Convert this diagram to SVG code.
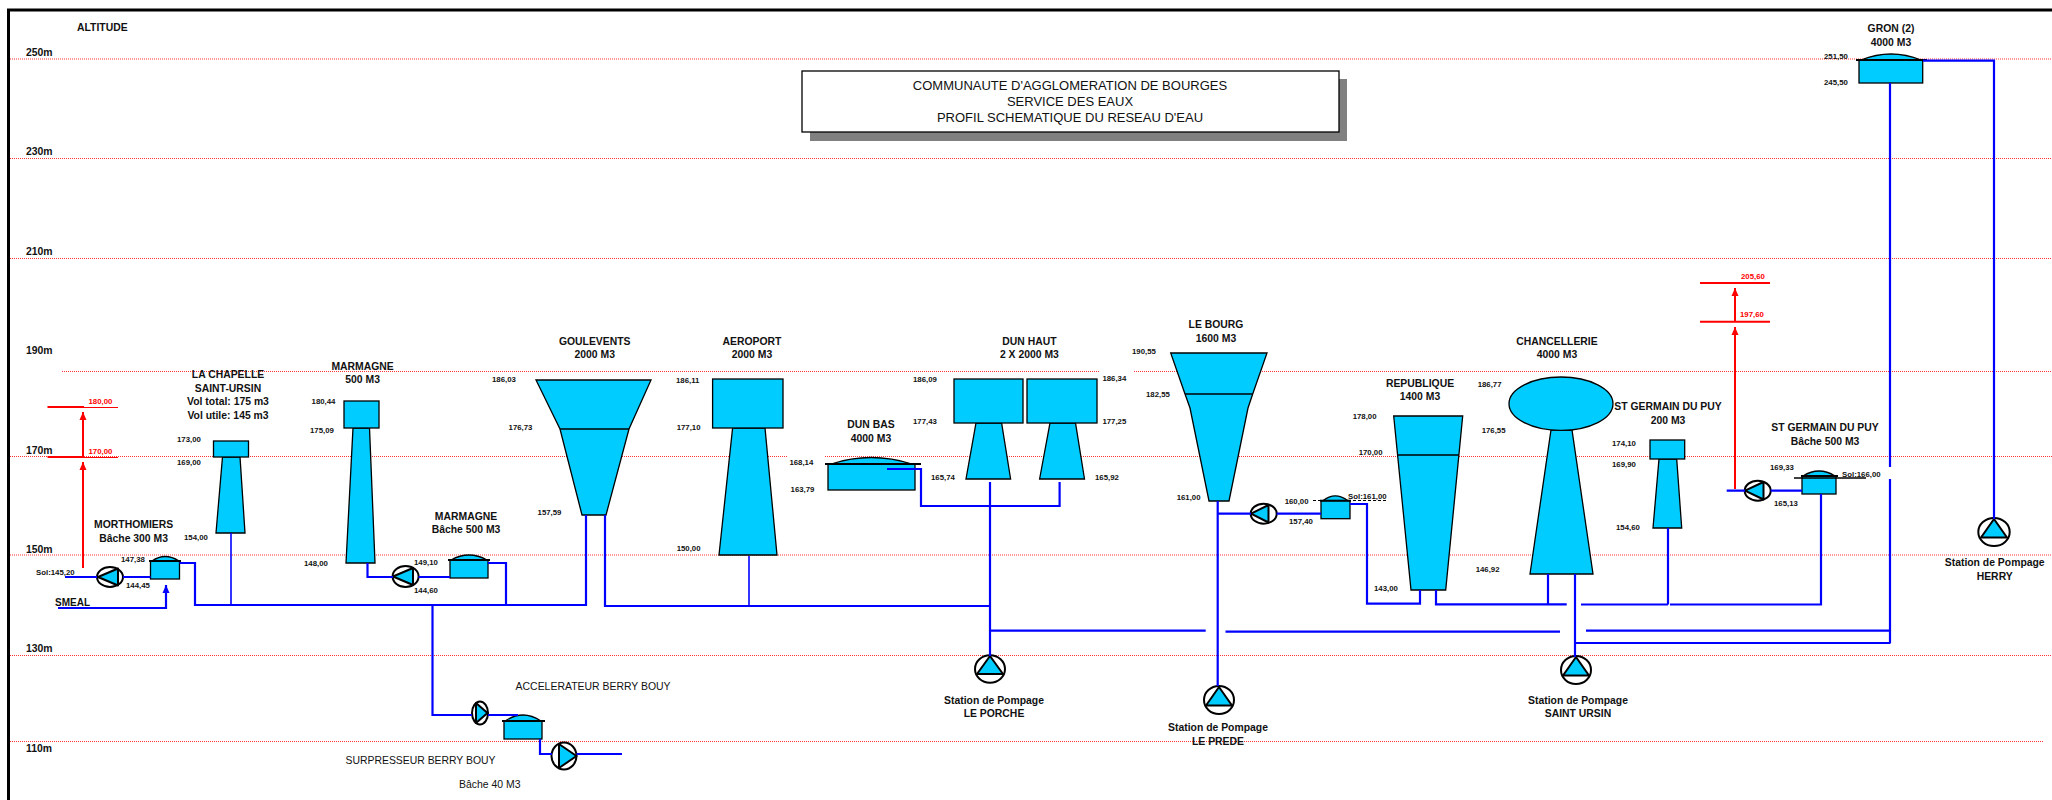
<svg xmlns="http://www.w3.org/2000/svg" width="2052" height="800" viewBox="0 0 2052 800">
<style>
text{font-family:"Liberation Sans",Arial,sans-serif;fill:#111}
.h{font-size:10.4px;font-weight:bold;text-anchor:middle}
.n{font-size:7.8px;font-weight:bold}
.r{font-size:7.8px;font-weight:bold;fill:#f00}
.a{font-size:10.4px;font-weight:bold}
.t{font-size:10.4px}
.tt{font-size:13px;text-anchor:middle}
.g{stroke:#f33;stroke-width:1;stroke-dasharray:1 1;fill:none}
.s{fill:#0cf;stroke:#000;stroke-width:1.3}
.k{stroke:#000;stroke-width:1.3;fill:none}
.lid{stroke:#000;stroke-width:2;fill:none}
.p{fill:#fff;stroke:#000;stroke-width:2}
.pt{fill:#0cf;stroke:#000;stroke-width:2;stroke-linejoin:round}
.b{stroke:#00f;stroke-width:2.2;fill:none}
.bt{stroke:#00f;stroke-width:1.6;fill:none}
.rl{stroke:#f00;stroke-width:2;fill:none}
.rt{stroke:#f00;stroke-width:1;fill:none}
</style>
<defs>
<marker id="ar" markerUnits="userSpaceOnUse" markerWidth="8" markerHeight="8" refX="8" refY="4" orient="auto" viewBox="0 0 8 8"><path d="M8 4L0 .5V7.500Z" fill="#f00"/></marker>
<marker id="ab" markerUnits="userSpaceOnUse" markerWidth="8" markerHeight="8" refX="8" refY="4" orient="auto" viewBox="0 0 8 8"><path d="M8 4L0 .5V7.500Z" fill="#00f"/></marker>
</defs>
<path d="M8.500 800V10H2052" fill="none" stroke="#000" stroke-width="3"/>
<g id="grid">
<path class="g" d="M10 59H2052"/><path class="g" d="M10 158.500H2052"/><path class="g" d="M10 258.500H2052"/>
<path class="g" d="M62 371.500H1099M1134 371.500H2052"/><path class="g" d="M10 456.500H787M825 456.500H2052"/><path class="g" d="M10 555H2052"/><path class="g" d="M10 655.500H2052"/><path class="g" d="M10 741.500H2044"/>
<text class="a" x="26" y="56">250m</text><text class="a" x="26" y="155">230m</text><text class="a" x="26" y="255">210m</text><text class="a" x="26" y="354">190m</text><text class="a" x="26" y="454">170m</text><text class="a" x="26" y="553">150m</text><text class="a" x="26" y="652">130m</text><text class="a" x="26" y="752">110m</text>
<text class="a" x="77" y="31">ALTITUDE</text>
</g>
<g id="title">
<rect x="810" y="79" width="537" height="62" fill="#808080"/>
<rect x="802" y="71" width="537" height="61" fill="#fff" stroke="#000" stroke-width="1.3"/>
<text class="tt" x="1070" y="90">COMMUNAUTE D'AGGLOMERATION DE BOURGES</text>
<text class="tt" x="1070" y="106">SERVICE DES EAUX</text>
<text class="tt" x="1070" y="122">PROFIL SCHEMATIQUE DU RESEAU D'EAU</text>
</g>
<g id="morthomiers">
<ellipse class="p" cx="110" cy="577" rx="13" ry="10"/><path class="pt" d="M98 577L118 568.500V585.500Z"/>
<path class="s" d="M152 561Q165 552 179 561Z"/><rect class="s" x="150.500" y="561" width="29" height="18"/><path class="lid" d="M149 561H181"/>
<text class="h" x="133.600" y="528">MORTHOMIERS</text><text class="h" x="133.600" y="541.700">Bâche 300 M3</text>
<text class="n" x="36" y="575">Sol:145,20</text><text class="n" x="121" y="561.700">147,38</text><text class="n" x="126" y="588">144,45</text>
<text class="a" x="55" y="606" style="font-size:10px">SMEAL</text>
</g>
<g id="la-chapelle">
<path class="s" d="M222.500 457H240L245 533H216Z"/><rect class="s" x="213.500" y="441" width="35" height="16"/>
<text class="h" x="228" y="377.700">LA CHAPELLE</text><text class="h" x="228" y="391.700">SAINT-URSIN</text><text class="h" x="228" y="405">Vol total: 175 m3</text><text class="h" x="228" y="419">Vol utile: 145 m3</text>
<text class="n" x="177" y="441.700">173,00</text><text class="n" x="177" y="465">169,00</text><text class="n" x="184" y="540">154,00</text>
</g>
<g id="marmagne-tour">
<path class="s" d="M353 428H369.500L375 563H346Z"/><rect class="s" x="344" y="401" width="35" height="27"/>
<text class="h" x="362.600" y="370">MARMAGNE</text><text class="h" x="362.600" y="383">500 M3</text>
<text class="n" x="311.600" y="404">180,44</text><text class="n" x="310" y="432.700">175,09</text><text class="n" x="304" y="566">148,00</text>
</g>
<g id="marmagne-bache">
<ellipse class="p" cx="405.600" cy="576.500" rx="13" ry="10.500"/><path class="pt" d="M393 576.500L413 568V585Z"/>
<path class="s" d="M451 560Q469 550 487 560Z"/><rect class="s" x="450" y="560" width="38" height="18"/><path class="lid" d="M448 560H490"/>
<text class="h" x="466" y="520">MARMAGNE</text><text class="h" x="466" y="533">Bâche 500 M3</text>
<text class="n" x="414" y="565">149,10</text><text class="n" x="414" y="593">144,60</text>
</g>
<g id="berry-bouy">
<ellipse class="p" cx="480" cy="713" rx="8" ry="11.500"/><path class="pt" d="M487.500 713L476 703V723Z"/>
<path class="s" d="M505 721Q523 709 541 721Z"/><rect class="s" x="504" y="721" width="38" height="18"/><path class="lid" d="M502 721H545"/>
<ellipse class="p" cx="564" cy="756" rx="12.500" ry="13.500"/><path class="pt" d="M576.500 756L559 744V768Z"/>
<text class="t" x="515.600" y="690" textLength="155" lengthAdjust="spacingAndGlyphs">ACCELERATEUR BERRY BOUY</text>
<text class="t" x="345.500" y="764" textLength="150" lengthAdjust="spacingAndGlyphs">SURPRESSEUR BERRY BOUY</text>
<text class="t" x="459" y="788" textLength="61.500" lengthAdjust="spacingAndGlyphs">Bâche 40 M3</text>
</g>
<g id="goulevents">
<path class="s" d="M536 380H651L629 429L606 515H582L560 429Z"/><path class="k" d="M560 429H629"/>
<text class="h" x="594.700" y="345">GOULEVENTS</text><text class="h" x="594.700" y="358">2000 M3</text>
<text class="n" x="492" y="381.700">186,03</text><text class="n" x="508.600" y="429.700">176,73</text><text class="n" x="537.600" y="514.700">157,59</text>
</g>
<g id="aeroport">
<path class="s" d="M732.600 428H765L777 555H719Z"/><rect class="s" x="712.600" y="379" width="70.400" height="49"/>
<text class="h" x="752" y="345">AEROPORT</text><text class="h" x="752" y="358">2000 M3</text>
<text class="n" x="676" y="382.700">186,11</text><text class="n" x="676.700" y="429.700">177,10</text><text class="n" x="676.700" y="550.700">150,00</text>
</g>
<g id="dun-bas">
<path class="s" d="M831 464Q871 451 912 464Z"/><rect class="s" x="828" y="464" width="87" height="26"/><path class="lid" d="M825 464H921"/>
<text class="h" x="871" y="428">DUN BAS</text><text class="h" x="871" y="442">4000 M3</text>
<text class="n" x="789.400" y="464.700">168,14</text><text class="n" x="790.600" y="491.700">163,79</text>
</g>
<g id="dun-haut">
<path class="s" d="M976 423H1001.600L1010.600 479H966Z"/><rect class="s" x="954" y="379" width="69" height="44"/>
<path class="s" d="M1050 423H1075.500L1084.500 479H1039.600Z"/><rect class="s" x="1027" y="379" width="70" height="44"/>
<text class="h" x="1029.400" y="345">DUN HAUT</text><text class="h" x="1029.400" y="358">2 X 2000 M3</text>
<text class="n" x="913" y="381.700">186,09</text><text class="n" x="913" y="423.700">177,43</text><text class="n" x="931" y="479.700">165,74</text><text class="n" x="1102.400" y="381">186,34</text><text class="n" x="1102.400" y="423.700">177,25</text><text class="n" x="1095" y="479.700">165,92</text>
</g>
<g id="le-bourg">
<path class="s" d="M1170.700 353H1267L1252.700 394L1248 408L1229 501H1209L1190 408L1185 394Z"/><path class="k" d="M1185 394H1252.700"/>
<text class="h" x="1216" y="328">LE BOURG</text><text class="h" x="1216" y="342">1600 M3</text>
<text class="n" x="1132" y="353.700">190,55</text><text class="n" x="1146" y="396.700">182,55</text><text class="n" x="1176.700" y="499.700">161,00</text>
</g>
<g id="bache-le-bourg">
<ellipse class="p" cx="1263.700" cy="513.700" rx="13" ry="10"/><path class="pt" d="M1251 513.700L1268.500 505V522.500Z"/>
<path class="s" d="M1323 500.700Q1335 491 1348 500.700Z"/><rect class="s" x="1321" y="500.700" width="29" height="18"/><path class="lid" d="M1320 500.700H1351"/>
<path d="M1313 500.500H1388" stroke="#000" stroke-width="1" stroke-dasharray="3 2"/>
<text class="n" x="1284.700" y="503.700">160,00</text><text class="n" x="1289" y="523.700">157,40</text><text class="n" x="1348" y="498.700">Sol:161,00</text>
</g>
<g id="republique">
<path class="s" d="M1393.700 416H1462.700L1445.700 590H1411Z"/><path class="k" d="M1397.700 455H1459"/>
<text class="h" x="1420" y="387">REPUBLIQUE</text><text class="h" x="1420" y="400">1400 M3</text>
<text class="n" x="1352.700" y="418.700">178,00</text><text class="n" x="1358.700" y="454.700">170,00</text><text class="n" x="1374" y="590.700">143,00</text>
</g>
<g id="chancellerie">
<path class="s" d="M1551 430H1572L1593 574H1530Z"/><ellipse class="s" cx="1561" cy="403.700" rx="52" ry="26.700"/>
<text class="h" x="1557" y="345">CHANCELLERIE</text><text class="h" x="1557" y="358">4000 M3</text>
<text class="n" x="1477.700" y="386.700">186,77</text><text class="n" x="1481.700" y="432.700">176,55</text><text class="n" x="1475.700" y="571.700">146,92</text>
</g>
<g id="st-germain-tour">
<path class="s" d="M1659 459H1676.700L1681.700 528H1653Z"/><rect class="s" x="1650" y="440" width="34.700" height="19"/>
<text class="h" x="1668" y="410">ST GERMAIN DU PUY</text><text class="h" x="1668" y="424">200 M3</text>
<text class="n" x="1612" y="445.700">174,10</text><text class="n" x="1612" y="466.700">169,90</text><text class="n" x="1616" y="529.700">154,60</text>
</g>
<g id="st-germain-bache">
<ellipse class="p" cx="1757.700" cy="490.700" rx="13" ry="10"/><path class="pt" d="M1745 490.700L1763.500 482V499.500Z"/>
<path class="s" d="M1803 476Q1819 466 1835 476Z"/><rect class="s" x="1802" y="476" width="34" height="18"/><path class="lid" d="M1801 476H1838"/>
<path class="k" d="M1794 478H1866"/>
<text class="h" x="1825" y="431">ST GERMAIN DU PUY</text><text class="h" x="1825" y="445">Bâche 500 M3</text>
<text class="n" x="1770" y="469.700">169,33</text><text class="n" x="1774" y="505.700">165,13</text><text class="n" x="1842" y="476.700">Sol:166,00</text>
</g>
<g id="gron">
<path class="s" d="M1861 60Q1891 48 1921 60Z"/><rect class="s" x="1859" y="60" width="63.700" height="23"/><path class="lid" d="M1856 60H1927"/>
<text class="h" x="1891" y="32">GRON (2)</text><text class="h" x="1891" y="46">4000 M3</text>
<text class="n" x="1824" y="58.700">251,50</text><text class="n" x="1824" y="84.700">245,50</text>
</g>
<g id="station-porche">
<ellipse class="p" cx="990" cy="669" rx="15" ry="13.700"/><path class="pt" d="M990 656L1003 674H977Z"/>
<text class="h" x="994" y="704">Station de Pompage</text><text class="h" x="994" y="717">LE PORCHE</text>
</g>
<g id="station-prede">
<ellipse class="p" cx="1219" cy="700" rx="15" ry="14"/><path class="pt" d="M1219 687L1232 705.500H1206Z"/>
<text class="h" x="1218" y="731">Station de Pompage</text><text class="h" x="1218" y="745">LE PREDE</text>
</g>
<g id="station-ursin">
<ellipse class="p" cx="1576" cy="670" rx="15" ry="14"/><path class="pt" d="M1576 657L1589 675.500H1563Z"/>
<text class="h" x="1578" y="704">Station de Pompage</text><text class="h" x="1578" y="717">SAINT URSIN</text>
</g>
<g id="station-herry">
<ellipse class="p" cx="1994" cy="532" rx="15.700" ry="14"/><path class="pt" d="M1994 519L2007 537.500H1981Z"/>
<text class="h" x="1994.700" y="566">Station de Pompage</text><text class="h" x="1994.700" y="580">HERRY</text>
</g>
<g id="connectors">
<path class="rl" d="M83 568V462" marker-end="url(#ar)"/><path class="rl" d="M83 457V412" marker-end="url(#ar)"/>
<path class="rl" d="M47.500 407H84M47.500 457H84"/><path class="rt" d="M84 407.500H118M84 457.500H118"/>
<text class="r" x="88.500" y="404">180,00</text><text class="r" x="88.500" y="454">170,00</text>
<path class="rl" d="M1735 489V327" marker-end="url(#ar)"/><path class="rl" d="M1735 321.700V288" marker-end="url(#ar)"/>
<path class="rl" d="M1700 283H1770M1700 321.700H1770"/>
<text class="r" x="1741" y="278.700">205,60</text><text class="r" x="1740" y="316.700">197,60</text>
<path class="b" d="M65 577H97M123 577H150.500"/>
<path class="b" d="M58 608H166V585" marker-end="url(#ab)"/>
<path class="b" d="M179.500 563H195V605H586V515"/>
<path class="bt" d="M231 533V605"/>
<path class="b" d="M367.500 563V577H393M418.500 577H450"/>
<path class="b" d="M488 563H506V605"/>
<path class="b" d="M432.500 605V715H472M488 715H518"/>
<path class="b" d="M540 739V754H552M576.500 754H622"/>
<path class="b" d="M605 515V606H990"/>
<path class="bt" d="M749 556V606"/>
<path class="b" d="M887 469H921V506H1059.600V482"/>
<path class="b" d="M990 482V656"/>
<path class="b" d="M990 630.700H1205.700M1225.500 631.700H1560M1586 630.700H1890"/>
<path class="b" d="M1217.700 501V686"/>
<path class="b" d="M1217.700 513.700H1251M1276.700 513.700H1321"/>
<path class="b" d="M1350 504H1367V603.700H1420V590"/>
<path class="b" d="M1436 590V604.300H1566.700M1581 604.500H1668M1670 604.500H1821V494"/>
<path class="b" d="M1548 574V604"/><path class="b" d="M1668 528V604.500"/>
<path class="b" d="M1575 574V657"/><path class="b" d="M1575 643H1890.500"/>
<path class="b" d="M1890 83V467M1890 479V643"/>
<path class="b" d="M1923 60.700H1994V519"/>
<path class="b" d="M1726.700 490.700H1745M1770.700 490.700H1802"/>
</g>
</svg>
